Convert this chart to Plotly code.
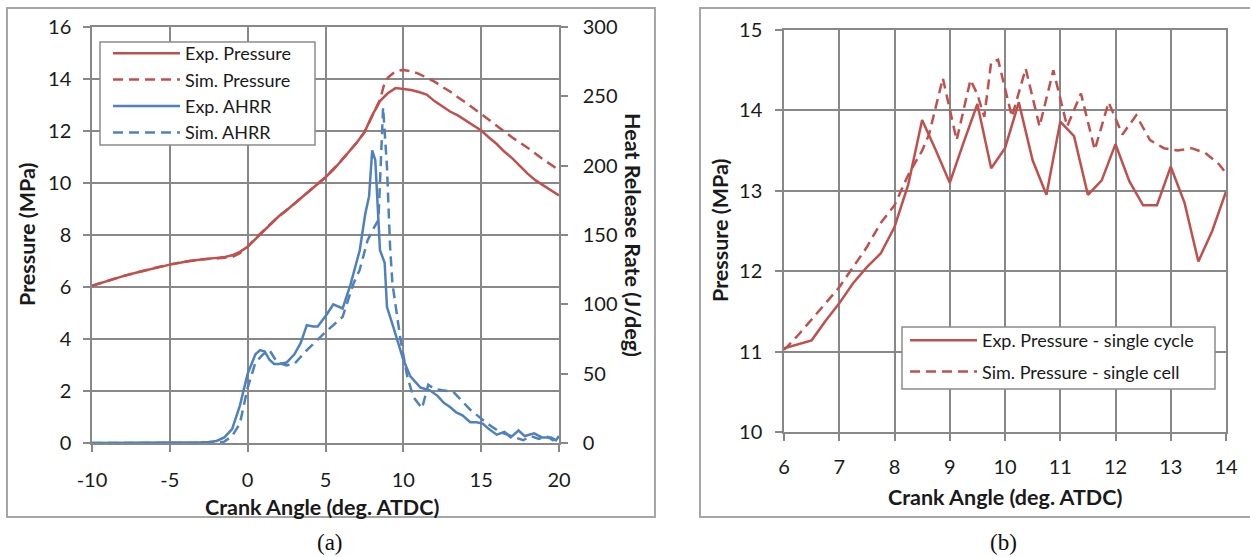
import plotly.graph_objects as go

RED = "#C0504D"
BLUE = "#4F81BD"
GRID = "#888888"
BOX = "#A6A6A6"
TXT = "#1a1a1a"
FONT = "Lato"

W, H = 1250, 557

# ---------------- panel (a): averaged pressure and apparent heat release rate
ca_p_exp = [-10, -9, -8, -7, -6, -5, -4, -3, -2, -1.5, -1, -0.5, 0, 0.5, 1, 1.5, 2, 2.5,
            3, 3.5, 4, 4.5, 5, 5.5, 6, 6.5, 7, 7.5, 8, 8.5, 9, 9.5, 10, 10.5, 11, 11.5,
            12, 12.5, 13, 13.5, 14, 14.5, 15, 15.5, 16, 16.5, 17, 17.5, 18, 18.5, 19,
            19.5, 20]
p_exp = [6.05, 6.24, 6.42, 6.58, 6.72, 6.86, 6.97, 7.06, 7.12, 7.15, 7.22, 7.35, 7.55,
         7.85, 8.15, 8.45, 8.72, 8.95, 9.2, 9.45, 9.72, 9.95, 10.22, 10.5, 10.85, 11.2,
         11.55, 11.95, 12.6, 13.15, 13.45, 13.65, 13.62, 13.58, 13.5, 13.4, 13.15,
         12.95, 12.75, 12.6, 12.4, 12.2, 12.02, 11.75, 11.5, 11.2, 10.95, 10.65, 10.35,
         10.1, 9.9, 9.7, 9.52]

ca_p_sim = [-10, -8, -6, -5, -4, -3, -2, -1, -0.5, 0, 0.5, 1, 1.5, 2, 3, 4, 5, 6, 7,
            7.5, 8, 8.5, 8.75, 9, 9.5, 10, 10.5, 11, 11.5, 12, 12.5, 13, 13.5, 14, 15,
            16, 17, 18, 19, 20]
p_sim = [6.05, 6.42, 6.73, 6.87, 6.98, 7.06, 7.1, 7.15, 7.3, 7.55, 7.88, 8.15, 8.45,
         8.72, 9.2, 9.72, 10.22, 10.85, 11.55, 11.95, 12.55, 13.2, 13.75, 14.05, 14.3,
         14.35, 14.3, 14.2, 14.05, 13.9, 13.7, 13.52, 13.3, 13.1, 12.65, 12.2, 11.75,
         11.35, 10.9, 10.5]

ca_hrr_exp = [-10, -8, -6, -4, -3, -2.5, -2, -1.5, -1, -0.5, 0, 0.5, 0.8, 1.1, 1.4, 1.7,
              2.0, 2.5, 3.0, 3.4, 3.8, 4.2, 4.5, 5.1, 5.5, 6.1, 6.6, 7.2, 7.55, 7.8, 8.0,
              8.2, 8.3, 8.4, 8.5, 8.8, 8.95, 9.35, 10.0, 10.45, 11.1, 11.7, 12.2, 12.6,
              13.0, 13.4, 13.8, 14.3, 14.7, 15.1, 15.5, 16.0, 16.5, 16.9, 17.4, 17.8,
              18.4, 18.9, 19.5, 19.8, 20.0]
hrr_exp = [0, 0, 0, 0, 0.5, 0.8, 1.5, 4, 10, 27, 50, 64, 67, 66, 60, 57, 57, 58, 64, 72,
           85, 84, 84, 93, 100, 97, 114, 139, 165, 178, 211, 204, 185, 161, 139, 130, 98,
           84, 60, 48, 40, 38, 34, 29, 26, 22, 20, 15, 15, 14, 10, 6, 8, 4, 9, 5, 7, 4,
           4, 2, 5]

ca_hrr_sim = [-10, -8, -6, -4, -3, -2, -1.5, -1, -0.5, 0, 0.5, 1.0, 1.4, 1.9, 2.5, 3.0,
              3.8, 5.1, 6.1, 6.8, 7.2, 7.7, 8.1, 8.4, 8.7, 8.95, 9.15, 9.3, 9.8, 10.25,
              10.65, 11.2, 11.6, 12.0, 12.5, 13.2, 14.3, 15.4, 16.2, 17.0, 17.7, 18.2,
              18.7, 19.2, 19.6, 20.0]
hrr_sim = [0, 0, 0, 0, 0, 0, 1, 5, 14, 40, 58, 64, 67, 58, 56, 57, 67, 81, 91, 115, 125,
           146, 155, 161, 242, 199, 141, 115, 76, 48, 33, 25, 42, 39, 38, 37, 24, 14, 8,
           5, 2, 5, 3, 5, 2, 3]

ticks_a = [-10, -5, 0, 5, 10, 15, 20]
tick_text_a = ["-10", "-5", "0", "5", "10", "15", "20"]

# ---------------- panel (b): single cycle vs single cell
ca_b_exp = [6, 6.25, 6.5, 6.75, 7, 7.25, 7.5, 7.75, 8, 8.25, 8.5, 8.75, 9, 9.25, 9.5,
            9.75, 10, 10.25, 10.5, 10.75, 11, 11.25, 11.5, 11.75, 12, 12.25, 12.5, 12.75,
            13, 13.25, 13.5, 13.75, 14]
pb_exp = [11.04, 11.09, 11.14, 11.38, 11.6, 11.85, 12.05, 12.22, 12.55, 13.08, 13.88,
          13.5, 13.1, 13.6, 14.08, 13.28, 13.53, 14.1, 13.38, 12.95, 13.86, 13.68, 12.95,
          13.13, 13.58, 13.12, 12.82, 12.82, 13.3, 12.85, 12.12, 12.5, 12.99]

ca_b_sim = [6, 6.25, 6.5, 6.75, 7, 7.25, 7.5, 7.75, 8, 8.25, 8.5, 8.625, 8.875, 9.125,
            9.375, 9.5, 9.625, 9.75, 9.875, 10.125, 10.375, 10.625, 10.875, 11.125,
            11.375, 11.625, 11.875, 12.125, 12.375, 12.625, 12.875, 13.125, 13.375,
            13.625, 13.875, 14]
pb_sim = [11.02, 11.2, 11.4, 11.6, 11.8, 12.05, 12.3, 12.6, 12.82, 13.2, 13.5, 13.7,
          14.4, 13.63, 14.38, 14.2, 13.92, 14.6, 14.63, 13.92, 14.52, 13.8, 14.5, 13.8,
          14.21, 13.51, 14.1, 13.7, 13.94, 13.63, 13.53, 13.5, 13.53, 13.47, 13.33, 13.22]

DASH = "10px,6px"

fig = go.Figure()
fig.add_trace(go.Scatter(x=ca_p_exp, y=p_exp, name="Exp. Pressure", mode="lines",
                         line=dict(color=RED, width=2.5), xaxis="x", yaxis="y",
                         legend="legend"))
fig.add_trace(go.Scatter(x=ca_p_sim, y=p_sim, name="Sim. Pressure", mode="lines",
                         line=dict(color=RED, width=2.5, dash=DASH), xaxis="x",
                         yaxis="y", legend="legend"))
fig.add_trace(go.Scatter(x=ca_hrr_exp, y=hrr_exp, name="Exp. AHRR", mode="lines",
                         line=dict(color=BLUE, width=2.5), xaxis="x", yaxis="y2",
                         legend="legend"))
fig.add_trace(go.Scatter(x=ca_hrr_sim, y=hrr_sim, name="Sim. AHRR", mode="lines",
                         line=dict(color=BLUE, width=2.5, dash=DASH), xaxis="x",
                         yaxis="y2", legend="legend"))
fig.add_trace(go.Scatter(x=ca_b_exp, y=pb_exp, name="Exp. Pressure - single cycle",
                         mode="lines", line=dict(color=RED, width=2.5), xaxis="x2",
                         yaxis="y3", legend="legend2", legendgroup="e"))
fig.add_trace(go.Scatter(x=ca_b_sim, y=pb_sim, name="Sim. Pressure - single cell",
                         mode="lines", line=dict(color=RED, width=2.5, dash=DASH),
                         xaxis="x2", yaxis="y3", legend="legend2", legendgroup="s"))

tickfont = dict(family=FONT, size=20, color=TXT)


def ax(**kw):
    base = dict(showgrid=True, gridcolor=GRID, gridwidth=1.5, showline=True,
                linecolor=GRID, linewidth=1.5, ticks="outside", ticklen=7,
                tickcolor=GRID, tickwidth=1.5, zeroline=False, tickfont=tickfont,
                fixedrange=True, automargin=False)
    base.update(kw)
    return base


def px(x):
    return x / W


def py(y):
    return (H - y) / H


legend_font = dict(family=FONT, size=18, color=TXT)

fig.update_layout(
    width=W, height=H, autosize=False,
    margin=dict(l=0, r=0, t=0, b=0, autoexpand=False),
    paper_bgcolor="white", plot_bgcolor="white",
    showlegend=True,
    xaxis=ax(domain=[px(92), px(559)], range=[-10, 20], tickvals=ticks_a,
             ticktext=tick_text_a, anchor="y", mirror=True, ticklabelstandoff=11),
    yaxis=ax(domain=[py(443), py(27)], range=[0, 16], tick0=0, dtick=2,
             anchor="x", mirror=True, ticklabelstandoff=8),
    yaxis2=ax(range=[0, 300], tick0=0, dtick=50, overlaying="y", side="right",
              anchor="x", showgrid=False, ticklabelstandoff=11),
    xaxis2=ax(domain=[px(784), px(1226)], range=[6, 14], tick0=6, dtick=1,
              anchor="y3", mirror=True, ticklabelstandoff=9),
    yaxis3=ax(domain=[py(432), py(30)], range=[10, 15], tick0=10, dtick=1,
              anchor="x2", mirror=True, ticklabelstandoff=9),
    legend=dict(x=px(108), y=py(35), xanchor="left", yanchor="top",
                bgcolor="rgba(0,0,0,0)", borderwidth=0, font=legend_font,
                itemwidth=67, traceorder="normal"),
    legend2=dict(x=px(905), y=py(322), xanchor="left", yanchor="top",
                 bgcolor="rgba(0,0,0,0)", borderwidth=0, font=legend_font,
                 itemwidth=67, traceorder="grouped", tracegroupgap=5),
)

# legend frames
fig.add_shape(type="rect", xref="paper", yref="paper", x0=px(100), x1=px(315),
              y0=py(145), y1=py(42), fillcolor="white",
              line=dict(color="#8C8C8C", width=1.5), layer="above")
fig.add_shape(type="rect", xref="paper", yref="paper", x0=px(902), x1=px(1215),
              y0=py(389), y1=py(327), fillcolor="white",
              line=dict(color="#8C8C8C", width=1.5), layer="above")

# frames around each panel
fig.add_shape(type="rect", xref="paper", yref="paper", x0=px(7), x1=px(655),
              y0=py(517), y1=py(8), line=dict(color=BOX, width=2), layer="below")
fig.add_shape(type="rect", xref="paper", yref="paper", x0=px(700), x1=px(1260),
              y0=py(517), y1=py(8), line=dict(color=BOX, width=2), layer="below")

title_font = dict(family=FONT, size=21.5, color=TXT)
notes = [
    dict(text="<b>Crank Angle (deg. ATDC)</b>", x=px(322), y=py(507), textangle=0),
    dict(text="<b>Pressure (MPa)</b>", x=px(27), y=py(235), textangle=-90),
    dict(text="<b>Heat Release Rate (J/deg)</b>", x=px(633), y=py(235), textangle=90),
    dict(text="<b>Crank Angle (deg. ATDC)</b>", x=px(1005), y=py(497), textangle=0),
    dict(text="<b>Pressure (MPa)</b>", x=px(720), y=py(231), textangle=-90),
]
for n in notes:
    fig.add_annotation(xref="paper", yref="paper", xanchor="center", yanchor="middle",
                       showarrow=False, font=title_font, **n)

cap_font = dict(family="Liberation Serif", size=23, color="#111111")
fig.add_annotation(text="(a)", x=px(330), y=py(542), xref="paper", yref="paper",
                   showarrow=False, font=cap_font, xanchor="center", yanchor="middle")
fig.add_annotation(text="(b)", x=px(1003), y=py(542), xref="paper", yref="paper",
                   showarrow=False, font=cap_font, xanchor="center", yanchor="middle")

fig.write_html("out.html")
